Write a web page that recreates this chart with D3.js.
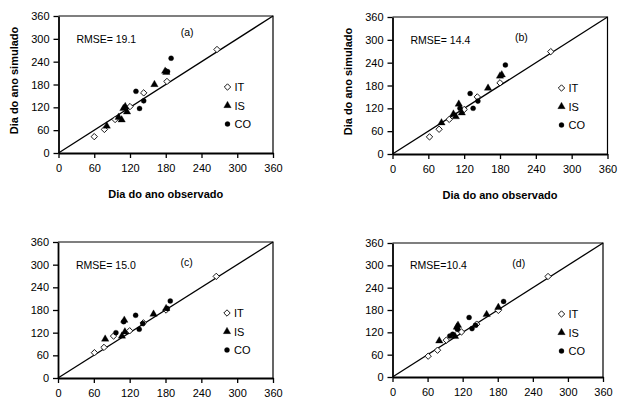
<!DOCTYPE html>
<html><head><meta charset="utf-8">
<script src="https://cdn.jsdelivr.net/npm/d3@7"></script>
<style>body{margin:0;background:#fff}svg{display:block}text{font-family:"Liberation Sans",Arial,sans-serif}</style>
</head><body><svg id="c" width="619" height="401"></svg>
<script>
const tickValues = [0, 60, 120, 180, 240, 300, 360];
const panelLabels = ["(a)", "(b)", "(c)", "(d)"];
const rmseLabels = ["RMSE= 19.1", "RMSE= 14.4", "RMSE= 15.0", "RMSE=10.4"];
const seriesNames = ["IT", "IS", "CO"];
const xTitle = "Dia do ano observado";
const yTitle = "Dia do ano simulado";

// [observed, simulated]
const itA = [[60,43],[77,62],[95,88],[120,122],[143,158],[182,188],[266,272]];
const isA = [[81,71],[101,94],[106,87],[109,117],[112,122],[115,108],[161,180],[179,215],[181,212]];
const coA = [[130,162],[136,117],[143,137],[183,214],[189,249]];

const itB = [[62,45],[78,65],[95,91],[120,117],[142,150],[180,187],[265,269]];
const isB = [[82,82],[102,105],[106,98],[111,131],[116,108],[160,173],[180,205],[183,208]];
const coB = [[113,120],[130,159],[135,120],[143,139],[189,234]];

const itC = [[61,67],[77,81],[93,111],[120,125],[143,146],[181,180],[265,269]];
const isC = [[79,103],[107,111],[111,153],[112,122],[160,169],[181,184]];
const coC = [[97,120],[110,149],[130,166],[136,129],[142,144],[183,184],[188,204]];

const itD = [[61,56],[77,72],[92,99],[118,121],[144,142],[181,179],[266,270]];
const isD = [[80,97],[107,109],[110,134],[112,139],[161,168],[181,187]];
const coD = [[98,110],[103,115],[111,128],[131,160],[136,130],[142,139],[190,203]];

const panelData = [[itA, isA, coA], [itB, isB, coB], [itC, isC, coC], [itD, isD, coD]];

// layout
const boxes = [
  {l: 58.5, r: 273, t: 16, b: 153, titles: true},
  {l: 392.5, r: 607.5, t: 17, b: 154, titles: true},
  {l: 58, r: 273, t: 242, b: 378, titles: false},
  {l: 392.5, r: 603, t: 243, b: 377, titles: false}
];

const svg = d3.select("#c");
const symType = [d3.symbolDiamond2, d3.symbolTriangle, d3.symbolCircle];
const symSize = [26, 24, 20];

function drawSym(sel, s) {
  sel.attr("d", d3.symbol().type(symType[s]).size(symSize[s]))
    .attr("fill", s === 0 ? "#fff" : "#000")
    .attr("stroke", "#000").attr("stroke-width", s === 0 ? 0.9 : 0.3);
}

boxes.forEach((bx, i) => {
  const x = d3.scaleLinear().domain([0, 360]).range([bx.l, bx.r]);
  const y = d3.scaleLinear().domain([0, 360]).range([bx.b, bx.t]);
  const g = svg.append("g");

  g.append("path").attr("d", `M${bx.l},${bx.t}H${bx.r}V${bx.b}`).attr("fill", "none").attr("stroke", "#000").attr("stroke-width", 1.2);

  const xa = g.append("g").attr("transform", `translate(0,${bx.b})`)
    .call(d3.axisBottom(x).tickValues(tickValues).tickSize(5).tickPadding(6).tickSizeOuter(0));
  const ya = g.append("g").attr("transform", `translate(${bx.l},0)`)
    .call(d3.axisLeft(y).tickValues(tickValues).tickSize(5).tickPadding(4).tickSizeOuter(0));
  [xa, ya].forEach(a => {
    a.select(".domain").attr("stroke-width", 1.8);
    a.selectAll(".tick line").attr("stroke-width", 1.3);
    a.selectAll("text").attr("font-size", 11).attr("fill", "#000");
  });

  g.append("line").attr("x1", x(0)).attr("y1", y(0)).attr("x2", x(360)).attr("y2", y(360))
    .attr("stroke", "#000").attr("stroke-width", 1.3);

  panelData[i].forEach((ser, s) => {
    g.selectAll(null).data(ser).enter().append("path")
      .call(drawSym, s)
      .attr("transform", d => `translate(${x(d[0])},${y(d[1])})`);
  });

  g.append("text").attr("x", x(30)).attr("y", y(300) + 4).attr("font-size", 10.5).text(rmseLabels[i]);
  g.append("text").attr("x", x(205)).attr("y", y(315) + (i === 0 ? 3 : 7)).attr("font-size", 10.5).text(panelLabels[i]);

  const lx = bx.l + 169;
  seriesNames.forEach((n, s) => {
    const ly = bx.t + 71 + s * 18.5;
    g.append("path").call(drawSym, s).attr("transform", `translate(${lx},${ly})`);
    g.append("text").attr("x", lx + 7).attr("y", ly + 4).attr("font-size", 11).text(n);
  });

  if (bx.titles) {
    g.append("text").attr("x", (bx.l + bx.r) / 2).attr("y", bx.b + 45).attr("text-anchor", "middle")
      .attr("font-size", 11).attr("font-weight", "bold").text(xTitle);
    g.append("text").attr("transform", `translate(${bx.l - 41},${(bx.t + bx.b) / 2 - 4}) rotate(-90)`)
      .attr("text-anchor", "middle").attr("font-size", 11).attr("font-weight", "bold").text(yTitle);
  }
});
</script></body></html>
